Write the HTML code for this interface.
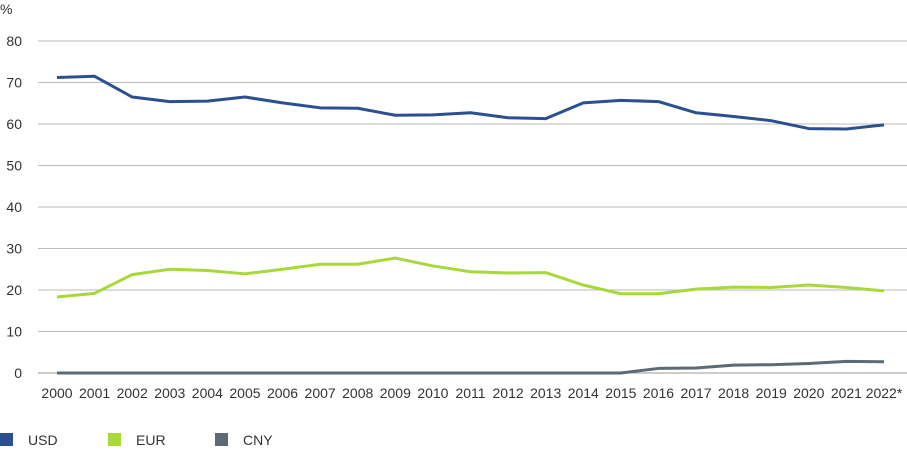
<!DOCTYPE html>
<html><head><meta charset="utf-8"><style>
body{margin:0;background:#fff;font-family:"Liberation Sans",sans-serif}
svg text{font-family:"Liberation Sans",sans-serif;fill:#333;font-size:14px}
</style></head><body>
<svg id="chart" width="907" height="449"></svg>
<script>
const years=["2000","2001","2002","2003","2004","2005","2006","2007","2008","2009","2010","2011","2012","2013","2014","2015","2016","2017","2018","2019","2020","2021","2022*"];
const usd=[71.2,71.5,66.5,65.4,65.5,66.5,65.1,63.9,63.8,62.1,62.2,62.7,61.5,61.3,65.1,65.7,65.4,62.7,61.8,60.8,58.9,58.8,59.8];
const eur=[18.3,19.2,23.7,25.0,24.7,23.9,25.0,26.2,26.2,27.7,25.8,24.4,24.1,24.2,21.2,19.1,19.1,20.2,20.7,20.6,21.2,20.6,19.8];
const cny=[0,0,0,0,0,0,0,0,0,0,0,0,0,0,0,0,1.1,1.2,1.9,2.0,2.3,2.8,2.7];
const yTicks=[0,10,20,30,40,50,60,70,80];
const svg=document.getElementById('chart');
const NS='http://www.w3.org/2000/svg';
const x=i=>57+i*(884-57)/(years.length-1);
const y=v=>373-v*(373-41)/80;
function mk(t,a){const e=document.createElementNS(NS,t);for(const k in a)e.setAttribute(k,a[k]);svg.appendChild(e);return e;}
yTicks.forEach(t=>{
 const l=mk('line',{x1:38,x2:907,y1:y(t),y2:y(t),stroke:t===0?'#999':'#bbb','stroke-width':1});
 
 
 const tx=mk('text',{x:22,y:y(t)+5,'text-anchor':'end'});tx.textContent=t;
 
 
});
const u=mk('text',{x:0,y:14});u.textContent='%';


years.forEach((yr,i)=>{
 const t=mk('text',{x:x(i),y:398,'text-anchor':'middle'});t.textContent=yr;
 
 
});
const series=[["usd",usd,"#2b4f91"],["eur",eur,"#a8d83a"],["cny",cny,"#5b6b74"]];
series.forEach(([n,d,c])=>{
 const p=mk('polyline',{points:d.map((v,i)=>x(i)+','+y(v)).join(' '),fill:'none',stroke:c,'stroke-width':3,'stroke-linejoin':'round'});
 
 
});
[["USD","#2b4f91",0],["EUR","#a8d83a",108],["CNY","#5b6b74",215]].forEach(([n,c,lx])=>{
 const r=mk('rect',{x:lx,y:433,width:13,height:13,fill:c});
 
 
 const t=mk('text',{x:lx+28,y:445});t.textContent=n;
 
 
});
</script>
</body></html>
